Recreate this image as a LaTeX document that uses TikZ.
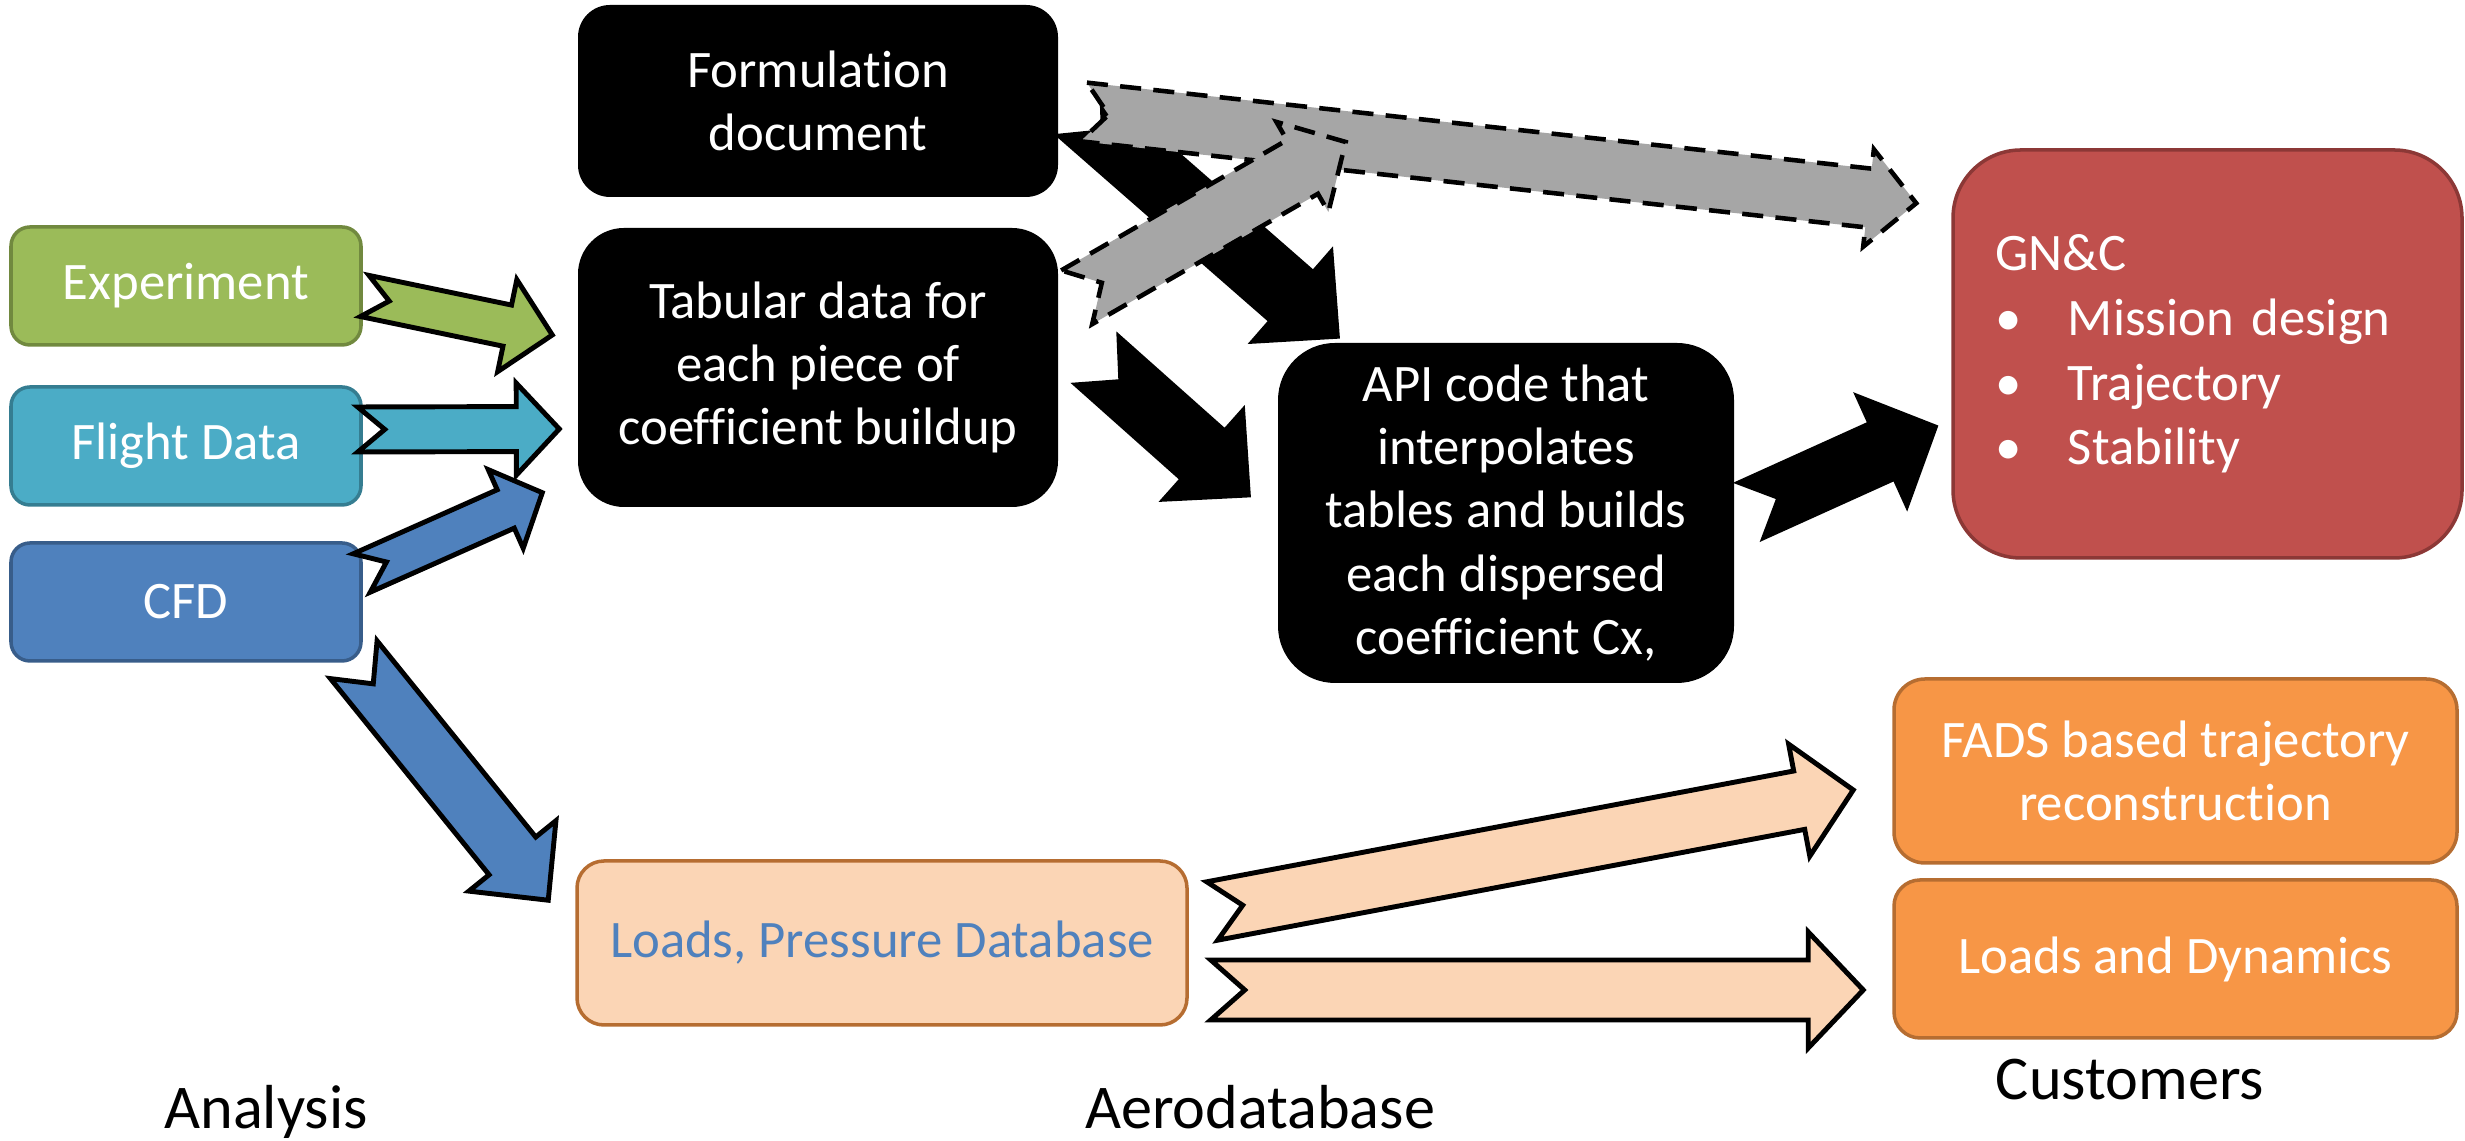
\documentclass[tikz,border=0pt]{standalone}
\usepackage{fontspec}
\setmainfont{Carlito}[Ligatures=NoCommon]
\usepackage{xcolor}
\usepackage{tikz}
\usetikzlibrary{calc}

\definecolor{expgreen}{HTML}{9BBB59}
\definecolor{expgreenD}{HTML}{71893F}
\definecolor{flightcyan}{HTML}{4BACC6}
\definecolor{flightcyanD}{HTML}{357D91}
\definecolor{cfdblue}{HTML}{4F81BD}
\definecolor{cfdblueD}{HTML}{385D8A}
\definecolor{gncred}{HTML}{C0504D}
\definecolor{gncredD}{HTML}{8C3836}
\definecolor{custorange}{HTML}{F79646}
\definecolor{custorangeD}{HTML}{B66D31}
\definecolor{loadpeach}{HTML}{FBD5B5}
\definecolor{arrgray}{HTML}{A6A6A6}

% notched block arrow: [style]{tail}{tip}{half shaft}{half head}{head length}{notch}
\newcommand{\notcharrow}[7][]{%
  \coordinate (na) at (#2);
  \coordinate (nb) at (#3);
  \coordinate (nc) at ($(nb)!#6!(na)$);
  \draw[#1] ($(na)!#4!90:(nb)$) -- ($(nc)!#4!90:(nb)$) -- ($(nc)!#5!90:(nb)$) -- (nb)
    -- ($(nc)!#5!-90:(nb)$) -- ($(nc)!#4!-90:(nb)$) -- ($(na)!#4!-90:(nb)$)
    -- ($(na)!#7!(nb)$) -- cycle;}

\begin{document}
\begin{tikzpicture}[font=\fontsize{15}{18}\selectfont,
    cbox/.style={draw, line width=1pt, text=white, align=center, inner sep=0pt},
    bbox/.style={fill=black, text=white, align=center, inner sep=0pt},
    lbl/.style={anchor=base, font=\fontsize{17.7}{21}\selectfont},
    blockarr/.style={draw=black, line width=1.4pt, line join=miter},
    grayarr/.style={fill=arrgray, draw=black, line width=1.3pt, dash pattern=on 6pt off 3.5pt}]

  \useasboundingbox (0,0) rectangle (24.65,11.41);

  % Analysis sources
  \node[cbox, fill=expgreen, draw=expgreenD, rounded corners=0.19cm, minimum width=3.5cm, minimum height=1.18cm] (exp) at (1.86,8.55) {Experiment};
  \node[cbox, fill=flightcyan, draw=flightcyanD, rounded corners=0.19cm, minimum width=3.5cm, minimum height=1.18cm] (fdata) at (1.86,6.95) {Flight Data};
  \node[cbox, fill=cfdblue, draw=cfdblueD, rounded corners=0.19cm, minimum width=3.5cm, minimum height=1.18cm] (cfd) at (1.86,5.39) {CFD};

  % Aerodatabase
  \node[bbox, rounded corners=0.32cm, minimum width=4.8cm, minimum height=1.92cm] (form) at (8.18,10.40) {Formulation\\document};
  \node[bbox, rounded corners=0.46cm, minimum width=4.8cm, minimum height=2.79cm] (tab) at (8.18,7.735) {Tabular data for\\each piece of\\coefficient buildup};
  \node[bbox, rounded corners=0.57cm, minimum width=4.56cm, minimum height=3.40cm] (api) at (15.06,6.28) {API code that\\interpolates\\tables and builds\\each dispersed\\coefficient Cx,};
  \node[cbox, fill=loadpeach, draw=custorangeD, text=cfdblue, rounded corners=0.27cm, minimum width=6.1cm, minimum height=1.64cm] (ldb) at (8.82,1.98) {Loads, Pressure Database};

  % Customers
  \node[cbox, fill=gncred, draw=gncredD, rounded corners=0.68cm, minimum height=4.08cm, text width=4.25cm, inner xsep=0.42cm, align=left,
        font=\fontsize{15}{18.4}\selectfont] (gnc) at (22.075,7.87)
    {GN\&C\\\makebox[0.73cm][l]{\textbullet}Mission design\\\makebox[0.73cm][l]{\textbullet}Trajectory\\\makebox[0.73cm][l]{\textbullet}Stability};
  \node[cbox, fill=custorange, draw=custorangeD, rounded corners=0.31cm, minimum width=5.63cm, minimum height=1.84cm] (fads) at (21.755,3.70) {FADS based trajectory\\reconstruction};
  \node[cbox, fill=custorange, draw=custorangeD, rounded corners=0.26cm, minimum width=5.63cm, minimum height=1.58cm] (ld) at (21.755,1.82) {Loads and Dynamics};

  % Column labels
  \node[lbl] (lana) at (2.66,0.12) {Analysis};
  \node[lbl] (laero) at (12.60,0.12) {Aerodatabase};
  \node[lbl] (lcust) at (21.30,0.41) {Customers};

  % Inputs to tabular data
  \notcharrow[blockarr, fill=expgreen]{$(exp.east)+(0.02,-0.10)$}{$(tab.west)+(-0.25,0.325)$}{0.21cm}{0.47cm}{0.46cm}{0.25cm}
  \notcharrow[blockarr, fill=flightcyan]{$(fdata.east)+(-0.05,0.165)$}{$(tab.west)+(-0.18,-0.615)$}{0.225cm}{0.46cm}{0.43cm}{0.27cm}
  \notcharrow[blockarr, fill=cfdblue]{$(cfd.east)+(-0.01,0.29)$}{$(tab.south west)+(-0.35,0.15)$}{0.21cm}{0.43cm}{0.40cm}{0.27cm}
  \notcharrow[blockarr, fill=cfdblue]{$(cfd.south east)+(-0.09,0.03)$}{$(ldb.north west)+(-0.27,-0.41)$}{0.30cm}{0.56cm}{0.57cm}{0.31cm}

  % Aerodatabase flow
  \notcharrow[blockarr, fill=black]{$(form.east)+(0.22,-0.11)$}{$(api.north west)+(0.60,0.06)$}{0.32cm}{0.59cm}{0.60cm}{0.30cm}
  \notcharrow[blockarr, fill=black]{$(tab.east)+(0.39,0.065)$}{$(api.west)+(-0.29,0.18)$}{0.32cm}{0.59cm}{0.60cm}{0.31cm}
  \notcharrow[blockarr, fill=black]{$(api.east)+(0.17,0.03)$}{$(gnc.west)+(-0.16,-0.73)$}{0.30cm}{0.595cm}{0.58cm}{0.30cm}

  % Direct paths (dashed)
  \notcharrow[grayarr]{$(form.east)+(0.25,-0.11)$}{$(gnc.north west)+(-0.35,-0.55)$}{0.295cm}{0.49cm}{0.48cm}{0.25cm}
  \notcharrow[grayarr]{$(tab.north east)+(0.18,-0.70)$}{$(form.east)+(2.87,-0.41)$}{0.31cm}{0.52cm}{0.50cm}{0.29cm}

  % Loads database to customers
  \notcharrow[blockarr, fill=loadpeach]{$(ldb.east)+(0.235,0.32)$}{$(fads.west)+(-0.39,-0.19)$}{0.297cm}{0.57cm}{0.55cm}{0.31cm}
  \notcharrow[blockarr, fill=loadpeach]{$(ldb.east)+(0.22,-0.47)$}{$(ld.west)+(-0.29,-0.31)$}{0.30cm}{0.58cm}{0.55cm}{0.34cm}

\end{tikzpicture}
\end{document}
